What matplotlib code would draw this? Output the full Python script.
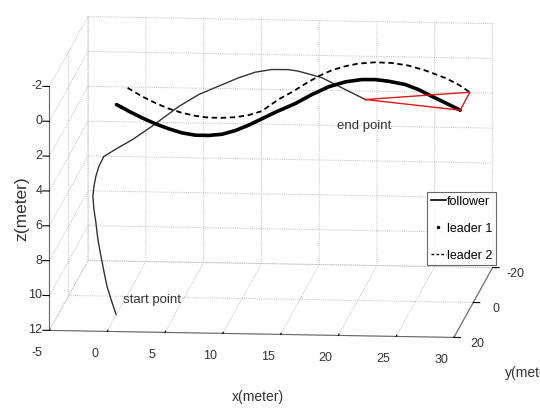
import numpy as np
import matplotlib
matplotlib.use('Agg')
import matplotlib.pyplot as plt
from matplotlib.lines import Line2D
from mpl_toolkits.mplot3d import proj3d

plt.rcParams['font.family'] = ['Liberation Sans', 'DejaVu Sans']
plt.rcParams['axes.unicode_minus'] = False

# trajectories in meter
follower_x = [0.10, -0.42, -0.85, -1.20, -1.54, -1.89, -2.15, -2.36, -2.49, -2.45,
              -2.32, -2.10, -1.72, -0.68, 0.66, 2.26, 4.51, 6.24, 7.96, 9.69,
              11.14, 12.57, 14.01, 14.88, 16.87, 18.94, 20.67]
follower_y = [12, 11, 10, 9, 8, 7, 6, 5.5, 5, 4.5,
              4, 3.5, 3, 2, 1.5, 1, 0, 0, 0, 0,
              0, 0, 0, 0, 0, 0, 0]
follower_z = [11.83, 11.07, 10.43, 9.68, 8.92, 8.05, 7.18, 6.48, 5.79, 5.27,
              4.74, 4.21, 3.69, 3.32, 2.83, 2.12, 1.05, 0.34, -0.16, -0.66,
              -1.00, -1.17, -1.18, -1.10, -0.76, -0.09, 0.46]

leader1_x = [-0.45, 0.62, 1.77, 2.93, 4.08, 5.22, 6.38, 7.53, 8.68, 9.84, 10.99, 12.14, 13.30,
             15.03, 16.46, 17.90, 19.35, 20.78, 21.94, 23.09, 24.53, 25.68, 26.83, 27.99, 29.29]
leader1_y = [5] * 25
leader1_z = [0.49, 0.86, 1.23, 1.56, 1.83, 2.05, 2.17, 2.17, 2.09, 1.86, 1.54, 1.16, 0.77,
             0.25, -0.28, -0.74, -1.04, -1.19, -1.20, -1.12, -0.95, -0.67, -0.30, 0.06, 0.47]

leader2_x = [-0.33, 0.90, 2.06, 3.21, 4.36, 5.52, 6.67, 7.82, 8.98, 10.13, 11.27, 12.72, 13.87,
             15.03, 16.18, 17.33, 18.48, 19.63, 21.08, 22.51, 23.95, 25.40, 27.13, 28.28, 29.29]
leader2_y = [-5] * 25
leader2_z = [0.53, 1.00, 1.37, 1.68, 1.91, 2.07, 2.16, 2.16, 2.11, 1.98, 1.74, 1.05, 0.62,
             0.13, -0.32, -0.68, -0.92, -1.09, -1.18, -1.16, -1.03, -0.77, -0.36, 0.01, 0.44]

x_ticks = [-5, 0, 5, 10, 15, 20, 25, 30]
y_ticks = [-20, 0, 20]
z_ticks = [-2, 0, 2, 4, 6, 8, 10, 12]

fig = plt.figure(figsize=(5.4, 4.17), dpi=100)
ax = fig.add_axes([0, 0, 1, 1], projection='3d')
ax.set_proj_type('ortho')
ax.view_init(elev=10.2, azim=-84.4)
ax.set_box_aspect((1.64, 1.60, 1.0))

ax.plot(follower_x, follower_y, follower_z, color='#333333', lw=1.0)
ax.plot(leader1_x, leader1_y, leader1_z, color='k', lw=2.6, solid_capstyle='round',
        solid_joinstyle='round')
ax.plot(leader2_x, leader2_y, leader2_z, color='k', lw=1.3, ls=(0, (3, 2)))

# formation at the end
ax.plot([follower_x[-1], leader1_x[-1], leader2_x[-1], follower_x[-1]],
        [follower_y[-1], leader1_y[-1], leader2_y[-1], follower_y[-1]],
        [follower_z[-1], leader1_z[-1], leader2_z[-1], follower_z[-1]],
        color='#e01818', lw=1.0)

ax.text(0.7, 12, 11.0, 'start point', fontsize=9.5, color='#333333', ha='left', va='center')
ax.text(18.2, 0, 2.0, 'end point', fontsize=9.5, color='#333333', ha='left', va='center')

ax.set_xlim(-5, 30)
ax.set_ylim(20, -20)
ax.set_zlim(12, -2)
ax.set_xticks(x_ticks)
ax.set_yticks(y_ticks)
ax.set_zticks(z_ticks)
ax.zaxis.set_ticks_position('upper')

for axis in (ax.xaxis, ax.yaxis, ax.zaxis):
    axis.set_tick_params(labelbottom=False)
    axis.set_pane_color((1, 1, 1, 0))
    axis.pane.set_edgecolor('#cccccc')
    axis.line.set_color('#666666')
    axis.label.set_visible(False)
    axis.offsetText.set_visible(False)
    axis._axinfo['grid'].update(color='#bdbdbd', linewidth=0.7, linestyle=(0, (1, 1.2)))
    axis._axinfo['tick'].update(inward_factor=0.0, outward_factor=0.2)
    axis._axinfo['tick']['linewidth'] = {True: 0.8, False: 0.5}
# y ticks stick out to the right, as in the picture
ax.yaxis._axinfo['tick'].update(inward_factor=0.2, outward_factor=0.0)

# tick labels sit MATLAB-style, off the box edges
for v in x_ticks:
    ax.text(v, 33, 12, str(v), fontsize=9, color='#333333', ha='center', va='center')
for v in y_ticks:
    ax.text(32, v, 12.37, str(v), fontsize=9, color='#333333', ha='center', va='center')
for v in z_ticks:
    ax.text(-5.6, 20, v, str(v), fontsize=9, color='#333333', ha='right', va='center')

fig.text(0.478, 0.048, 'x(meter)', fontsize=10, color='#333333', ha='center', va='center')
fig.text(0.935, 0.105, 'y(meter)', fontsize=10, color='#333333', ha='left', va='center')
fig.text(0.041, 0.50, 'z(meter)', fontsize=12.5, color='#333333', rotation=90,
         ha='center', va='center')

handles = [Line2D([], [], color='k', lw=1.2, label='follower'),
           Line2D([], [], color='k', ls='none', marker='.', ms=3, label='leader 1'),
           Line2D([], [], color='k', ls=(0, (2, 1.5)), lw=1.0, label='leader 2')]
leg = fig.legend(handles=handles, loc='upper left', bbox_to_anchor=(0.791, 0.540),
                 frameon=True, fancybox=False, edgecolor='#444444',
                 prop={'family': 'Liberation Sans', 'size': 9},
                 handlelength=1.2, handletextpad=0.1, borderpad=0.3,
                 labelspacing=1.2, borderaxespad=0)
leg.get_frame().set_linewidth(0.8)

# place the box so its corners land where they are in the picture
fig.canvas.draw()
M = ax.get_proj()
W, H = fig.bbox.width, fig.bbox.height
px, py, _ = proj3d.proj_transform(np.array([-5.0, 30.0]), np.array([20.0, -20.0]),
                                  np.array([12.0, -2.0]), M)
pts = ax.transData.transform(np.column_stack([px, py]))
target = np.array([[50, H - 331], [492, H - 23]])
k = ((target[1] - target[0]).sum()) / ((pts[1] - pts[0]).sum())
c0 = np.array([ax.bbox.x0 + ax.bbox.width / 2, ax.bbox.y0 + ax.bbox.height / 2])
c1 = target.mean(axis=0) - k * (pts.mean(axis=0) - c0)
s1 = k * ax.bbox.width
ax.set_position([(c1[0] - s1 / 2) / W, (c1[1] - s1 / 2) / H, s1 / W, s1 / H])

fig.savefig('out.png', dpi=100)
